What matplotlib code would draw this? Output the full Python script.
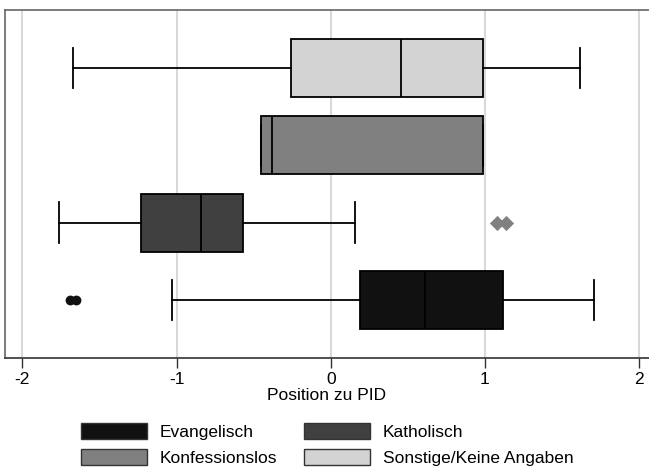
import matplotlib
matplotlib.use("Agg")
import matplotlib.pyplot as plt
from matplotlib.patches import Patch

plt.rcParams['font.family'] = ['Liberation Sans', 'DejaVu Sans']

# Data
groups = ["Evangelisch", "Katholisch", "Konfessionslos", "Sonstige/Keine Angaben"]
colors = ["#111111", "#404040", "#808080", "#d3d3d3"]
q1 = [0.19, -1.23, -0.45, -0.26]
median = [0.61, -0.84, -0.38, 0.455]
q3 = [1.12, -0.57, 0.99, 0.99]
whislo = [-1.03, -1.76, -0.45, -1.675]
whishi = [1.71, 0.16, 0.99, 1.62]
ev_outliers = [-1.69, -1.65]
gray_outliers = [1.08, 1.135]
xticks = [-2, -1, 0, 1, 2]

FS = 12.5

fig = plt.figure(figsize=(6.49, 4.67), dpi=100)
ax = fig.add_axes([5/649, 1-358/467, 644/649, 348/467])

stats = []
for i, g in enumerate(groups):
    stats.append(dict(label=g, q1=q1[i], med=median[i], q3=q3[i],
                      whislo=whislo[i], whishi=whishi[i], fliers=[]))

positions = list(range(len(groups)))
bp = ax.bxp(stats, positions=positions, widths=0.75, vert=False,
            patch_artist=True, showfliers=False, capwidths=0.53,
            boxprops=dict(edgecolor='black', linewidth=1.3),
            medianprops=dict(color='black', linewidth=1.3),
            whiskerprops=dict(color='black', linewidth=1.3),
            capprops=dict(color='black', linewidth=1.3))
for patch, c in zip(bp['boxes'], colors):
    patch.set_facecolor(c)

ax.scatter(ev_outliers, [positions[0]] * len(ev_outliers), s=50, marker='o',
           color=colors[0], zorder=3, linewidths=0)
ax.scatter(gray_outliers, [positions[1]] * len(gray_outliers), s=60, marker='D',
           color=colors[2], zorder=3, linewidths=0)

ax.set_xlim(-2.113, 2.065)
ax.set_ylim(-0.75, 3.75)
ax.set_yticks([])
ax.set_xticks(xticks)
ax.set_xticklabels([str(t) for t in xticks], fontsize=FS)
ax.tick_params(axis='x', length=7, width=1, color='#333333', pad=3)
ax.xaxis.grid(True, color='#d9d9d9', linewidth=1.5)
ax.set_axisbelow(True)
ax.set_xlabel("Position zu PID", fontsize=FS, labelpad=1)

ax.spines['right'].set_visible(False)
ax.spines['top'].set_color('#666666')
ax.spines['left'].set_color('#666666')
ax.spines['bottom'].set_color('#333333')
for s in ['top', 'left', 'bottom']:
    ax.spines[s].set_linewidth(1.2)

order = [0, 2, 1, 3]
handles = [Patch(facecolor=colors[i], edgecolor='#333333', linewidth=1.0, label=groups[i]) for i in order]
fig.legend(handles=handles, ncol=2, loc='lower center', bbox_to_anchor=(0.504, -0.031),
           frameon=False, fontsize=FS, handlelength=3.8, handleheight=1.03,
           handletextpad=0.7, columnspacing=1.6, labelspacing=0.5)

fig.savefig("out.png", dpi=100)
